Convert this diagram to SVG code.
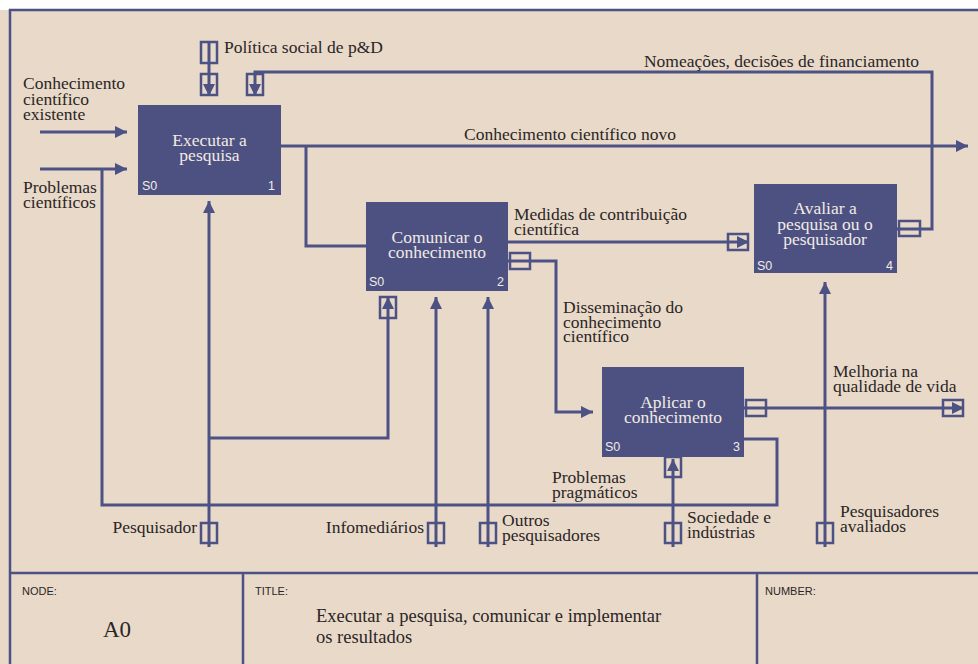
<svg xmlns="http://www.w3.org/2000/svg" width="978" height="664" viewBox="0 0 978 664">
<style>
.lbl{font-family:"Liberation Serif","Times New Roman",serif;font-size:17.5px;fill:#2a2626}
.box{fill:#4d5181}
.bt{font-family:"Liberation Serif","Times New Roman",serif;font-size:17.5px;fill:#f1ebe4;text-anchor:middle}
.bs{font-family:"Liberation Sans",Arial,sans-serif;font-size:12.5px;fill:#f1ebe4}
.ln{fill:none;stroke:#4d5285;stroke-width:3}
.tn{fill:none;stroke:#4d5285;stroke-width:2.5}
.fr{fill:none;stroke:#4d5285;stroke-width:2.5}
.tb{font-family:"Liberation Sans",Arial,sans-serif;font-size:11px;fill:#2a2626}
</style>
<defs>
<marker id="ah" viewBox="0 0 12 12" refX="12" refY="6" markerWidth="12" markerHeight="12" markerUnits="userSpaceOnUse" orient="auto">
<path d="M0,0 L12,6 L0,12 z" fill="#4d5285"/>
</marker>
</defs>
<rect x="0" y="0" width="978" height="664" fill="#ffffff"/>
<rect x="0" y="10" width="978" height="654" fill="#e9d9c9"/>
<g id="frame">
<path class="fr" d="M10,664 V10 H978"/>
<path class="fr" d="M10,573 H978 M243,573 V664 M757,573 V664"/>
<text class="tb" x="22" y="595">NODE:</text>
<text class="tb" x="255" y="595">TITLE:</text>
<text class="tb" x="765" y="595">NUMBER:</text>
<text x="117" y="637" font-family="Liberation Serif, Times New Roman, serif" font-size="23" fill="#2a2626" text-anchor="middle">A0</text>
<text font-family="Liberation Serif, Times New Roman, serif" font-size="18.5" fill="#2a2626"><tspan x="316" y="622">Executar a pesquisa, comunicar e implementar</tspan><tspan x="316" y="643">os resultados</tspan></text>
</g>
<g id="connectors">
<path class="ln" d="M40,132 H127" marker-end="url(#ah)"/>
<path class="ln" d="M40,169 H127" marker-end="url(#ah)"/>
<path class="ln" d="M209,42 V96" marker-end="url(#ah)"/>
<rect class="tn" x="201" y="42" width="16" height="21"/>
<rect class="tn" x="201" y="74" width="16" height="21"/>
<path class="ln" d="M897,229 H932 V72 H255 V96" marker-end="url(#ah)"/>
<rect class="tn" x="899" y="221" width="21" height="15"/>
<rect class="tn" x="247" y="74" width="16" height="21"/>
<path class="ln" d="M281,146 H968" marker-end="url(#ah)"/>
<path class="ln" d="M306,146 V246 H366"/>
<path class="ln" d="M508,242 H749" marker-end="url(#ah)"/>
<rect class="tn" x="728" y="234" width="20" height="16"/>
<path class="ln" d="M508,261 H556 V412 H593" marker-end="url(#ah)"/>
<rect class="tn" x="510" y="253" width="20" height="16"/>
<path class="ln" d="M744,408 H964" marker-end="url(#ah)"/>
<rect class="tn" x="746" y="400" width="20" height="16"/>
<rect class="tn" x="943" y="400" width="20" height="16"/>
<path class="ln" d="M744,439 H777 V505 H102 V169"/>
<path class="ln" d="M209,547 V201" marker-end="url(#ah)"/>
<rect class="tn" x="201" y="523" width="16" height="20"/>
<path class="ln" d="M209,438 H388 V297" marker-end="url(#ah)"/>
<rect class="tn" x="380" y="297" width="16" height="21"/>
<path class="ln" d="M436,547 V297" marker-end="url(#ah)"/>
<rect class="tn" x="428" y="523" width="16" height="20"/>
<path class="ln" d="M488,547 V297" marker-end="url(#ah)"/>
<rect class="tn" x="480" y="523" width="16" height="20"/>
<path class="ln" d="M673,547 V459" marker-end="url(#ah)"/>
<rect class="tn" x="665" y="523" width="16" height="20"/>
<rect class="tn" x="665" y="457" width="16" height="20"/>
<path class="ln" d="M825,547 V282" marker-end="url(#ah)"/>
<rect class="tn" x="817" y="523" width="16" height="20"/>
</g>
<g id="labels">
<text class="lbl"><tspan x="23" y="89">Conhecimento</tspan><tspan x="23" y="104.5">científico</tspan><tspan x="23" y="120">existente</tspan></text>
<text class="lbl"><tspan x="23" y="193">Problemas</tspan><tspan x="23" y="208">científicos</tspan></text>
<text class="lbl" x="224" y="53">Política social de p&amp;D</text>
<text class="lbl" x="919" y="67" text-anchor="end">Nomeações, decisões de financiamento</text>
<text class="lbl" x="464" y="140">Conhecimento científico novo</text>
<text class="lbl"><tspan x="514" y="220">Medidas de contribuição</tspan><tspan x="514" y="235">científica</tspan></text>
<text class="lbl"><tspan x="563" y="313">Disseminação do</tspan><tspan x="563" y="328">conhecimento</tspan><tspan x="563" y="342">científico</tspan></text>
<text class="lbl"><tspan x="833" y="377">Melhoria na</tspan><tspan x="833" y="392">qualidade de vida</tspan></text>
<text class="lbl"><tspan x="552" y="483">Problemas</tspan><tspan x="552" y="498">pragmáticos</tspan></text>
<text class="lbl" x="197" y="533" text-anchor="end">Pesquisador</text>
<text class="lbl" x="424" y="533" text-anchor="end">Infomediários</text>
<text class="lbl"><tspan x="502" y="526">Outros</tspan><tspan x="502" y="541">pesquisadores</tspan></text>
<text class="lbl"><tspan x="687" y="523">Sociedade e</tspan><tspan x="687" y="538">indústrias</tspan></text>
<text class="lbl"><tspan x="840" y="517">Pesquisadores</tspan><tspan x="840" y="532">avaliados</tspan></text>
</g>
<g id="node1">
<rect class="box" x="138" y="105" width="143" height="90"/>
<text class="bt"><tspan x="209.5" y="146">Executar a</tspan><tspan x="209.5" y="161">pesquisa</tspan></text>
<text class="bs" x="142" y="190">S0</text>
<text class="bs" x="275" y="190" text-anchor="end">1</text>
</g>
<g id="node2">
<rect class="box" x="366" y="202" width="142" height="89"/>
<text class="bt"><tspan x="437" y="243">Comunicar o</tspan><tspan x="437" y="258">conhecimento</tspan></text>
<text class="bs" x="369" y="286">S0</text>
<text class="bs" x="504" y="286" text-anchor="end">2</text>
</g>
<g id="node3">
<rect class="box" x="602" y="367" width="142" height="90"/>
<text class="bt"><tspan x="673" y="408">Aplicar o</tspan><tspan x="673" y="423">conhecimento</tspan></text>
<text class="bs" x="605" y="451">S0</text>
<text class="bs" x="740" y="451" text-anchor="end">3</text>
</g>
<g id="node4">
<rect class="box" x="754" y="184" width="143" height="89"/>
<text class="bt"><tspan x="825" y="214">Avaliar a</tspan><tspan x="825" y="229.5">pesquisa ou o</tspan><tspan x="825" y="245">pesquisador</tspan></text>
<text class="bs" x="757" y="270">S0</text>
<text class="bs" x="893" y="270" text-anchor="end">4</text>
</g>
</svg>
